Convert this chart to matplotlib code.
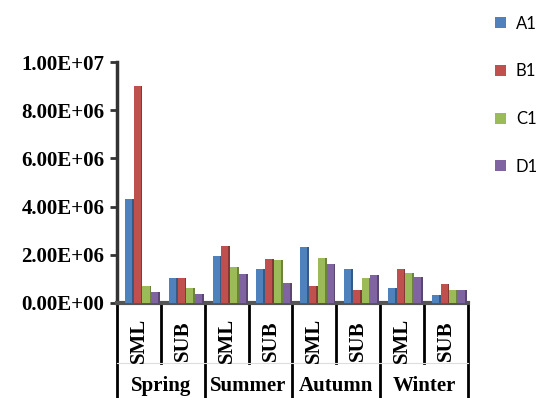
import numpy as np
import matplotlib.pyplot as plt
from matplotlib.colors import to_rgb
from matplotlib.transforms import blended_transform_factory

# data
seasons = ["Spring", "Summer", "Autumn", "Winter"]
sites = ["SML", "SUB", "SML", "SUB", "SML", "SUB", "SML", "SUB"]
series = ["A1", "B1", "C1", "D1"]
a1 = [4.3e6, 1.05e6, 1.95e6, 1.4e6, 2.3e6, 1.4e6, 0.62e6, 0.32e6]
b1 = [9.0e6, 1.05e6, 2.35e6, 1.82e6, 0.7e6, 0.52e6, 1.4e6, 0.8e6]
c1 = [0.7e6, 0.6e6, 1.5e6, 1.78e6, 1.88e6, 1.05e6, 1.25e6, 0.52e6]
d1 = [0.45e6, 0.38e6, 1.2e6, 0.82e6, 1.6e6, 1.15e6, 1.08e6, 0.52e6]
colors = ["#4F81BD", "#C0504D", "#9BBB59", "#8064A2"]

fig = plt.figure(figsize=(5.37, 3.98), dpi=100)
ax = fig.add_axes([0.218, 0.239, 0.653, 0.605])

x = np.arange(len(sites))
w = 0.2
for i, vals in enumerate([a1, b1, c1, d1]):
    pos = x - 0.4 + 0.08 + i * w
    ax.bar(pos, vals, width=w * 0.8, color=colors[i], align="edge", label=series[i], zorder=3)
    # darker side to fake the 3D look
    dark = tuple(c * 0.7 for c in to_rgb(colors[i]))
    ax.bar(pos + w * 0.8, vals, width=w * 0.2, color=dark, align="edge", zorder=3)

ax.set_xlim(-0.5, len(sites) - 0.5)
ax.set_ylim(0, 1e7)
ax.set_yticks(np.arange(0, 1.01e7, 2e6))
ax.set_yticklabels(["%.2E" % v for v in np.arange(0, 1.01e7, 2e6)],
                   family="Liberation Serif", fontweight="bold", fontsize=15)
ax.set_xticks([])
ax.tick_params(axis="y", length=5, width=2, color="#333333", pad=4)

for s in ["top", "right"]:
    ax.spines[s].set_visible(False)
ax.spines["left"].set_linewidth(2.5)
ax.spines["left"].set_color("#333333")
ax.spines["bottom"].set_linewidth(3)
ax.spines["bottom"].set_color("#555555")

# two level category axis
tr = blended_transform_factory(ax.transData, ax.transAxes)
for k in range(len(sites) + 1):
    xb = k - 0.5
    low = -0.42 if k % 2 == 0 else -0.25
    ax.plot([xb, xb], [0, low], color="black", lw=2, transform=tr, clip_on=False)
ax.plot([-0.5, len(sites) - 0.5], [-0.25, -0.25], color="#dddddd", lw=0.8,
        transform=tr, clip_on=False)
for k, s in enumerate(sites):
    ax.text(k, -0.155, s, rotation=90, ha="center", va="center", transform=tr,
            family="Liberation Serif", fontweight="bold", fontsize=15)
for k, s in enumerate(seasons):
    ax.text(2 * k + 0.5, -0.345, s, ha="center", va="center", transform=tr,
            family="Liberation Serif", fontweight="bold", fontsize=15)

ax.legend(loc="upper left", bbox_to_anchor=(1.035, 1.255), frameon=False,
          prop={"family": "Lato", "size": 12}, handlelength=0.65, handleheight=0.65,
          handletextpad=0.6, labelspacing=1.9)

fig.savefig("out.png", dpi=100)
